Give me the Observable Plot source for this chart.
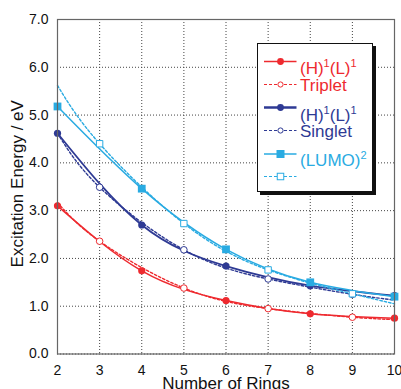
<!DOCTYPE html>
<html>
<head>
<meta charset="utf-8">
<script src="https://cdn.jsdelivr.net/npm/d3@7"></script>
<script src="https://cdn.jsdelivr.net/npm/@observablehq/plot@0.6"></script>
<style>
  html, body { margin: 0; padding: 0; background: #fff; }
  #wrap { position: relative; width: 401px; height: 389px; overflow: hidden; font-family: "Liberation Sans", Arial, sans-serif; }
  #legend { position: absolute; left: 257px; top: 43px; width: 114px; height: 147px; background: #fff; border: 1.5px solid #111; box-shadow: 3px 3px 0 #111; }
</style>
</head>
<body>
<div id="wrap"><div id="legend"></div></div>
<script>
// ---- data ----
const xTicks = [2, 3, 4, 5, 6, 7, 8, 9, 10];
const yTicks = [0, 1, 2, 3, 4, 5, 6, 7];
const ringsEven = [2, 4, 6, 8, 10];
const ringsOdd = [3, 5, 7, 9];
const ringsDash = [2, 3, 5, 7, 9, 10];

// (H)1(L)1 triplet (red)
const tripletFilled = [3.10, 1.74, 1.12, 0.84, 0.75];
const tripletOpen = [2.36, 1.38, 0.95, 0.77];
const tripletDash = [3.17, 2.36, 1.38, 0.95, 0.77, 0.72];
// (H)1(L)1 singlet (dark blue)
const singletFilled = [4.62, 2.70, 1.84, 1.43, 1.22];
const singletOpen = [3.49, 2.18, 1.57, 1.25];
const singletDash = [4.62, 3.49, 2.18, 1.57, 1.25, 1.13];
// (LUMO)2 (cyan)
const lumoFilled = [5.18, 3.46, 2.19, 1.50, 1.20];
const lumoOpen = [4.40, 2.73, 1.76, 1.26];
const lumoDash = [5.62, 4.40, 2.73, 1.76, 1.26, 1.05];

const xTitle = "Number of Rings";
const yTitle = "Excitation Energy / eV";
const legendLabels = ["(H)|1|(L)|1", "Triplet", "(H)|1|(L)|1", "Singlet", "(LUMO)|2", ""];

const RED = "#ee2a2f", BLUE = "#2e3a94", CYAN = "#29abe2";

const pts = (xs, ys) => xs.map((x, i) => ({x, y: ys[i]}));

const series = [
  {color: RED, filled: pts(ringsEven, tripletFilled), open: pts(ringsOdd, tripletOpen), dash: pts(ringsDash, tripletDash), symbol: "circle", w: 1.5},
  {color: BLUE, filled: pts(ringsEven, singletFilled), open: pts(ringsOdd, singletOpen), dash: pts(ringsDash, singletDash), symbol: "circle", w: 1.8},
  {color: CYAN, filled: pts(ringsEven, lumoFilled), open: pts(ringsOdd, lumoOpen), dash: pts(ringsDash, lumoDash), symbol: "square", w: 1.5}
];

const marks = [
  Plot.gridX(xTicks, {stroke: "#444", strokeOpacity: 1, strokeWidth: 1, strokeDasharray: "1,2"}),
  Plot.gridY(yTicks, {stroke: "#444", strokeOpacity: 1, strokeWidth: 1, strokeDasharray: "1,2"}),
];
for (const s of series) {
  marks.push(Plot.line(s.dash, {x: "x", y: "y", curve: "natural", stroke: s.color, strokeWidth: 1.4, strokeDasharray: "2.5,2"}));
  marks.push(Plot.line(s.filled, {x: "x", y: "y", curve: "natural", stroke: s.color, strokeWidth: s.w}));
}
for (const s of series) {
  marks.push(Plot.dot(s.open, {x: "x", y: "y", symbol: s.symbol, r: s.symbol === "square" ? 3.6 : 3.3, stroke: s.color, strokeWidth: 1, fill: "white"}));
  marks.push(Plot.dot(s.filled, {x: "x", y: "y", symbol: s.symbol, r: s.symbol === "square" ? 4.4 : 3.6, fill: s.color, stroke: "none"}));
}
marks.push(
  Plot.frame({stroke: "#666", strokeWidth: 1.2}),
  Plot.axisX(xTicks, {tickSize: 0, tickPadding: 11, fontSize: 14, label: null, fill: "#111"}),
  Plot.axisY(yTicks, {tickSize: 0, tickPadding: 9, fontSize: 14, label: null, tickFormat: d => d.toFixed(1), fill: "#111"}),
  Plot.text([xTitle], {frameAnchor: "bottom", dy: 29.5, fontSize: 17, textAnchor: "middle", lineAnchor: "middle", fill: "#111"}),
  Plot.text([yTitle], {frameAnchor: "left", dx: -39.5, dy: -3, rotate: -90, fontSize: 17, textAnchor: "middle", lineAnchor: "middle", fill: "#111"})
);

const chart = Plot.plot({
  width: 401,
  height: 389,
  marginLeft: 57,
  marginRight: 7,
  marginTop: 19,
  marginBottom: 35.5,
  x: {domain: [2, 10]},
  y: {domain: [0, 7]},
  style: {fontFamily: "Liberation Sans, Arial, sans-serif", fontSize: "14px", background: "white", overflow: "visible"},
  marks
});
document.getElementById("wrap").insertBefore(chart, document.getElementById("legend"));

// ---- legend ----
const NS = "http://www.w3.org/2000/svg";
const lg = document.createElementNS(NS, "svg");
lg.setAttribute("width", 114); lg.setAttribute("height", 147);
lg.style.display = "block";
const rowY = [17.5, 40.5, 63.5, 86.5, 110, 132.5];
const rowTextY = [29.5, 46.5, 77, 93, 121.5, null];
legendLabels.forEach((lab, i) => {
  const s = series[Math.floor(i / 2)];
  const dashed = i % 2 === 1;
  const y = rowY[i];
  const line = document.createElementNS(NS, "line");
  line.setAttribute("x1", 6); line.setAttribute("x2", 38.5);
  line.setAttribute("y1", y); line.setAttribute("y2", y);
  line.setAttribute("stroke", s.color);
  line.setAttribute("stroke-width", dashed ? 1.2 : (i === 2 ? 2.6 : 1.4));
  if (dashed) line.setAttribute("stroke-dasharray", "3,2");
  lg.appendChild(line);
  let m;
  if (s.symbol === "square") {
    m = document.createElementNS(NS, "rect");
    const side = dashed ? 6.5 : 8;
    m.setAttribute("x", 22.5 - side / 2); m.setAttribute("y", y - side / 2);
    m.setAttribute("width", side); m.setAttribute("height", side);
  } else {
    m = document.createElementNS(NS, "circle");
    m.setAttribute("cx", 22.5); m.setAttribute("cy", y);
    m.setAttribute("r", dashed ? 2.6 : 3.4);
  }
  if (dashed) { m.setAttribute("fill", "white"); m.setAttribute("stroke", s.color); m.setAttribute("stroke-width", 1); }
  else m.setAttribute("fill", s.color);
  lg.appendChild(m);
  if (lab && rowTextY[i] != null) {
    const t = document.createElementNS(NS, "text");
    t.setAttribute("x", 42); t.setAttribute("y", rowTextY[i]);
    t.setAttribute("fill", s.color);
    t.setAttribute("font-size", 17);
    t.setAttribute("font-family", "Liberation Sans, Arial, sans-serif");
    lab.split("|").forEach((part, k) => {
      const ts = document.createElementNS(NS, "tspan");
      ts.textContent = part;
      if (k % 2 === 1) { ts.setAttribute("font-size", 11); ts.setAttribute("dy", -7); }
      else if (k > 0) { ts.setAttribute("dy", 7); }
      t.appendChild(ts);
    });
    lg.appendChild(t);
  }
});
document.getElementById("legend").appendChild(lg);
</script>
</body>
</html>
